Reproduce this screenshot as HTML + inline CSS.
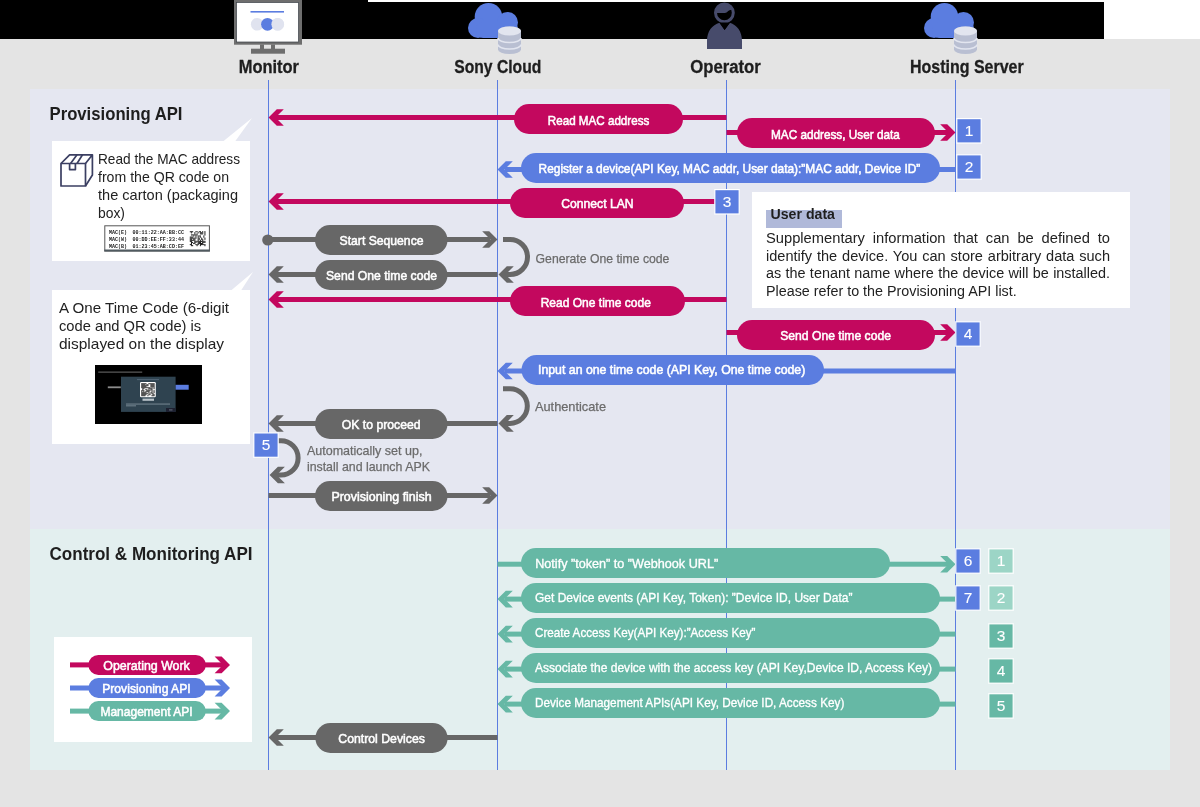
<!DOCTYPE html>
<html><head><meta charset="utf-8"><style>
html,body{margin:0;padding:0;background:#e4e4e4;}
svg{display:block;font-family:"Liberation Sans", sans-serif;will-change:transform;}
</style></head><body>
<svg width="1200" height="807" viewBox="0 0 1200 807">
<rect x="0" y="0" width="1200" height="807" fill="#e4e4e4"/>
<rect x="0" y="0" width="1104" height="39" fill="#000"/>
<rect x="368" y="0" width="736" height="2" fill="#fff"/>
<rect x="1104" y="0" width="96" height="39" fill="#fff"/>
<rect x="30" y="89" width="1140" height="440" fill="#e5e7f1"/>
<rect x="30" y="529" width="1140" height="241" fill="#e3efef"/>
<rect x="268.0" y="80" width="1" height="690" fill="#5b7de0"/>
<rect x="497.0" y="80" width="1" height="690" fill="#5b7de0"/>
<rect x="726.0" y="80" width="1" height="690" fill="#5b7de0"/>
<rect x="955.0" y="80" width="1" height="690" fill="#5b7de0"/>
<rect x="234" y="0" width="68" height="44.7" fill="#6e6e6e"/><rect x="236.5" y="2.5" width="62" height="39.5" fill="#fff" stroke="#3a3f46" stroke-width="0.7"/>
<rect x="260" y="44.5" width="4" height="5" fill="#6e6e6e"/><rect x="271" y="44.5" width="4" height="5" fill="#6e6e6e"/>
<rect x="251" y="48.7" width="34" height="5" fill="#6e6e6e"/>
<rect x="250.5" y="11" width="33.5" height="1.6" fill="#5b7de0"/>
<circle cx="257.2" cy="24.3" r="6.3" fill="#e0e3ef"/><circle cx="277.7" cy="24.3" r="6.3" fill="#e0e3ef"/>
<circle cx="267.5" cy="24.3" r="6.4" fill="#5b7de0"/>
<circle cx="277.7" cy="24.3" r="6.3" fill="#e0e3ef"/>
<g transform="translate(468,3)" fill="#5b7de0"><circle cx="20.5" cy="13.8" r="13.8"/><circle cx="39.5" cy="19.5" r="10.5"/><circle cx="10" cy="25" r="10"/><rect x="8" y="19" width="42" height="16" rx="7"/></g>
<g transform="translate(498,26.5)"><path d="M0,4.5 A11.5,4.5 0 0 1 23,4.5 V23 A11.5,4.5 0 0 1 0,23 Z" fill="#b9bfd2"/><ellipse cx="11.5" cy="4.5" rx="11.5" ry="4.5" fill="#e2e5ef"/><path d="M0,11.5 A11.5,4.5 0 0 0 23,11.5" fill="none" stroke="#e2e5ef" stroke-width="1.6"/><path d="M0,18 A11.5,4.5 0 0 0 23,18" fill="none" stroke="#e2e5ef" stroke-width="1.6"/></g>
<g transform="translate(924,3)" fill="#5b7de0"><circle cx="20.5" cy="13.8" r="13.8"/><circle cx="39.5" cy="19.5" r="10.5"/><circle cx="10" cy="25" r="10"/><rect x="8" y="19" width="42" height="16" rx="7"/></g>
<g transform="translate(954,26.5)"><path d="M0,4.5 A11.5,4.5 0 0 1 23,4.5 V23 A11.5,4.5 0 0 1 0,23 Z" fill="#b9bfd2"/><ellipse cx="11.5" cy="4.5" rx="11.5" ry="4.5" fill="#e2e5ef"/><path d="M0,11.5 A11.5,4.5 0 0 0 23,11.5" fill="none" stroke="#e2e5ef" stroke-width="1.6"/><path d="M0,18 A11.5,4.5 0 0 0 23,18" fill="none" stroke="#e2e5ef" stroke-width="1.6"/></g>
<defs><clipPath id="hc"><circle cx="724.4" cy="12.8" r="8.9"/></clipPath></defs>
<circle cx="724.4" cy="12.8" r="8.9" fill="none" stroke="#474b6b" stroke-width="3"/>
<path d="M714,2 H736 V11 C733,9.5 730.5,9.5 729,10.5 C727.5,11.5 726.5,13 724.7,13 H714 Z" fill="#474b6b" clip-path="url(#hc)"/>
<path d="M707,49 V41 C707,31.5 712,25 719.6,22.8 L724.6,30 L729.8,22.8 C737,25 742,31.5 742,41 V49 Z" fill="#474b6b"/>
<path d="M719.2,22.6 L724.6,30 L730.2,22.6 Z" fill="#000"/>
<text x="238.7" y="73.3" font-size="18" font-weight="700" fill="#1e1e1e" text-anchor="start" textLength="60.3" lengthAdjust="spacingAndGlyphs" stroke="#1e1e1e" stroke-width="0.3">Monitor</text>
<text x="454.3" y="73" font-size="18" font-weight="700" fill="#1e1e1e" text-anchor="start" textLength="87" lengthAdjust="spacingAndGlyphs" stroke="#1e1e1e" stroke-width="0.3">Sony Cloud</text>
<text x="690.2" y="72.8" font-size="18" font-weight="700" fill="#1e1e1e" text-anchor="start" textLength="70.6" lengthAdjust="spacingAndGlyphs" stroke="#1e1e1e" stroke-width="0.3">Operator</text>
<text x="910" y="73" font-size="18" font-weight="700" fill="#1e1e1e" text-anchor="start" textLength="113.7" lengthAdjust="spacingAndGlyphs" stroke="#1e1e1e" stroke-width="0.3">Hosting Server</text>
<text x="49.5" y="120" font-size="19" font-weight="700" fill="#1e1e1e" text-anchor="start" textLength="133" lengthAdjust="spacingAndGlyphs">Provisioning API</text>
<text x="49.5" y="560" font-size="19" font-weight="700" fill="#1e1e1e" text-anchor="start" textLength="203" lengthAdjust="spacingAndGlyphs">Control &amp; Monitoring API</text>
<polygon points="223,141.5 252,118 235,141.5" fill="#fff"/>
<rect x="52" y="141" width="198" height="120" fill="#fff"/>
<g fill="none" stroke="#3b3f62" stroke-width="1.7" stroke-linejoin="round"><rect x="61" y="163.5" width="24.5" height="22.5"/><path d="M61,163.5 L69.6,154.8 H92.4 V175 L85.5,186 M85.5,163.5 L92.4,154.8"/><path d="M70.6,163.5 L77,154.8 M77,163.5 L82.5,154.8"/><path d="M69.6,163.5 V169.6 H75.4 V163.5"/></g>
<text x="98" y="164.4" font-size="14.5" font-weight="400" fill="#222" text-anchor="start" textLength="142" lengthAdjust="spacingAndGlyphs">Read the MAC address</text>
<text x="98" y="182.4" font-size="14.5" font-weight="400" fill="#222" text-anchor="start" textLength="131" lengthAdjust="spacingAndGlyphs">from the QR code on</text>
<text x="98" y="200.4" font-size="14.5" font-weight="400" fill="#222" text-anchor="start" textLength="140" lengthAdjust="spacingAndGlyphs">the carton (packaging</text>
<text x="98" y="218.4" font-size="14.5" font-weight="400" fill="#222" text-anchor="start" textLength="27" lengthAdjust="spacingAndGlyphs">box)</text>
<rect x="104.8" y="225.8" width="104.6" height="25.2" fill="#fff" stroke="#555" stroke-width="1"/>
<rect x="104.3" y="249.5" width="105.6" height="2" fill="#505a60"/>
<text x="109" y="234.3" font-family="Liberation Mono" font-size="6" font-weight="700" fill="#222" textLength="18" lengthAdjust="spacingAndGlyphs">MAC(E)</text>
<text x="132.5" y="234.3" font-family="Liberation Mono" font-size="6" font-weight="700" fill="#222" textLength="51.5" lengthAdjust="spacingAndGlyphs">00:11:22:AA:BB:CC</text>
<text x="109" y="241.3" font-family="Liberation Mono" font-size="6" font-weight="700" fill="#222" textLength="18" lengthAdjust="spacingAndGlyphs">MAC(W)</text>
<text x="132.5" y="241.3" font-family="Liberation Mono" font-size="6" font-weight="700" fill="#222" textLength="51.5" lengthAdjust="spacingAndGlyphs">00:DD:EE:FF:33:44</text>
<text x="109" y="248.3" font-family="Liberation Mono" font-size="6" font-weight="700" fill="#222" textLength="18" lengthAdjust="spacingAndGlyphs">MAC(B)</text>
<text x="132.5" y="248.3" font-family="Liberation Mono" font-size="6" font-weight="700" fill="#222" textLength="51.5" lengthAdjust="spacingAndGlyphs">01:23:45:AB:CD:EF</text>
<g fill="#1a1a1a"><rect x="189.80" y="231.20" width="1.12" height="1.07"/><rect x="190.92" y="231.20" width="1.12" height="1.07"/><rect x="192.04" y="231.20" width="1.12" height="1.07"/><rect x="195.40" y="231.20" width="1.12" height="1.07"/><rect x="196.52" y="231.20" width="1.12" height="1.07"/><rect x="198.76" y="231.20" width="1.12" height="1.07"/><rect x="199.88" y="231.20" width="1.12" height="1.07"/><rect x="202.12" y="231.20" width="1.12" height="1.07"/><rect x="204.36" y="231.20" width="1.12" height="1.07"/><rect x="190.92" y="232.27" width="1.12" height="1.07"/><rect x="194.28" y="232.27" width="1.12" height="1.07"/><rect x="197.64" y="232.27" width="1.12" height="1.07"/><rect x="199.88" y="232.27" width="1.12" height="1.07"/><rect x="201.00" y="232.27" width="1.12" height="1.07"/><rect x="202.12" y="232.27" width="1.12" height="1.07"/><rect x="204.36" y="232.27" width="1.12" height="1.07"/><rect x="194.28" y="233.34" width="1.12" height="1.07"/><rect x="196.52" y="233.34" width="1.12" height="1.07"/><rect x="199.88" y="233.34" width="1.12" height="1.07"/><rect x="201.00" y="233.34" width="1.12" height="1.07"/><rect x="202.12" y="233.34" width="1.12" height="1.07"/><rect x="204.36" y="233.34" width="1.12" height="1.07"/><rect x="190.92" y="234.41" width="1.12" height="1.07"/><rect x="192.04" y="234.41" width="1.12" height="1.07"/><rect x="193.16" y="234.41" width="1.12" height="1.07"/><rect x="194.28" y="234.41" width="1.12" height="1.07"/><rect x="195.40" y="234.41" width="1.12" height="1.07"/><rect x="196.52" y="234.41" width="1.12" height="1.07"/><rect x="204.36" y="234.41" width="1.12" height="1.07"/><rect x="193.16" y="235.48" width="1.12" height="1.07"/><rect x="195.40" y="235.48" width="1.12" height="1.07"/><rect x="197.64" y="235.48" width="1.12" height="1.07"/><rect x="198.76" y="235.48" width="1.12" height="1.07"/><rect x="199.88" y="235.48" width="1.12" height="1.07"/><rect x="203.24" y="235.48" width="1.12" height="1.07"/><rect x="189.80" y="236.55" width="1.12" height="1.07"/><rect x="190.92" y="236.55" width="1.12" height="1.07"/><rect x="192.04" y="236.55" width="1.12" height="1.07"/><rect x="195.40" y="236.55" width="1.12" height="1.07"/><rect x="197.64" y="236.55" width="1.12" height="1.07"/><rect x="199.88" y="236.55" width="1.12" height="1.07"/><rect x="203.24" y="236.55" width="1.12" height="1.07"/><rect x="189.80" y="237.62" width="1.12" height="1.07"/><rect x="190.92" y="237.62" width="1.12" height="1.07"/><rect x="192.04" y="237.62" width="1.12" height="1.07"/><rect x="193.16" y="237.62" width="1.12" height="1.07"/><rect x="194.28" y="237.62" width="1.12" height="1.07"/><rect x="195.40" y="237.62" width="1.12" height="1.07"/><rect x="197.64" y="237.62" width="1.12" height="1.07"/><rect x="198.76" y="237.62" width="1.12" height="1.07"/><rect x="201.00" y="237.62" width="1.12" height="1.07"/><rect x="204.36" y="237.62" width="1.12" height="1.07"/><rect x="189.80" y="238.69" width="1.12" height="1.07"/><rect x="190.92" y="238.69" width="1.12" height="1.07"/><rect x="193.16" y="238.69" width="1.12" height="1.07"/><rect x="194.28" y="238.69" width="1.12" height="1.07"/><rect x="197.64" y="238.69" width="1.12" height="1.07"/><rect x="198.76" y="238.69" width="1.12" height="1.07"/><rect x="201.00" y="238.69" width="1.12" height="1.07"/><rect x="202.12" y="238.69" width="1.12" height="1.07"/><rect x="204.36" y="238.69" width="1.12" height="1.07"/><rect x="189.80" y="239.76" width="1.12" height="1.07"/><rect x="190.92" y="239.76" width="1.12" height="1.07"/><rect x="192.04" y="239.76" width="1.12" height="1.07"/><rect x="193.16" y="239.76" width="1.12" height="1.07"/><rect x="194.28" y="239.76" width="1.12" height="1.07"/><rect x="197.64" y="239.76" width="1.12" height="1.07"/><rect x="199.88" y="239.76" width="1.12" height="1.07"/><rect x="202.12" y="239.76" width="1.12" height="1.07"/><rect x="189.80" y="240.83" width="1.12" height="1.07"/><rect x="190.92" y="240.83" width="1.12" height="1.07"/><rect x="194.28" y="240.83" width="1.12" height="1.07"/><rect x="195.40" y="240.83" width="1.12" height="1.07"/><rect x="196.52" y="240.83" width="1.12" height="1.07"/><rect x="197.64" y="240.83" width="1.12" height="1.07"/><rect x="198.76" y="240.83" width="1.12" height="1.07"/><rect x="199.88" y="240.83" width="1.12" height="1.07"/><rect x="201.00" y="240.83" width="1.12" height="1.07"/><rect x="202.12" y="240.83" width="1.12" height="1.07"/><rect x="203.24" y="240.83" width="1.12" height="1.07"/><rect x="204.36" y="240.83" width="1.12" height="1.07"/><rect x="190.92" y="241.90" width="1.12" height="1.07"/><rect x="192.04" y="241.90" width="1.12" height="1.07"/><rect x="194.28" y="241.90" width="1.12" height="1.07"/><rect x="195.40" y="241.90" width="1.12" height="1.07"/><rect x="197.64" y="241.90" width="1.12" height="1.07"/><rect x="198.76" y="241.90" width="1.12" height="1.07"/><rect x="199.88" y="241.90" width="1.12" height="1.07"/><rect x="202.12" y="241.90" width="1.12" height="1.07"/><rect x="203.24" y="241.90" width="1.12" height="1.07"/><rect x="204.36" y="241.90" width="1.12" height="1.07"/><rect x="190.92" y="242.97" width="1.12" height="1.07"/><rect x="193.16" y="242.97" width="1.12" height="1.07"/><rect x="194.28" y="242.97" width="1.12" height="1.07"/><rect x="197.64" y="242.97" width="1.12" height="1.07"/><rect x="198.76" y="242.97" width="1.12" height="1.07"/><rect x="199.88" y="242.97" width="1.12" height="1.07"/><rect x="201.00" y="242.97" width="1.12" height="1.07"/><rect x="202.12" y="242.97" width="1.12" height="1.07"/><rect x="189.80" y="244.04" width="1.12" height="1.07"/><rect x="190.92" y="244.04" width="1.12" height="1.07"/><rect x="195.40" y="244.04" width="1.12" height="1.07"/><rect x="196.52" y="244.04" width="1.12" height="1.07"/><rect x="197.64" y="244.04" width="1.12" height="1.07"/><rect x="199.88" y="244.04" width="1.12" height="1.07"/><rect x="201.00" y="244.04" width="1.12" height="1.07"/><rect x="202.12" y="244.04" width="1.12" height="1.07"/><rect x="203.24" y="244.04" width="1.12" height="1.07"/><rect x="204.36" y="244.04" width="1.12" height="1.07"/><rect x="190.92" y="245.11" width="1.12" height="1.07"/><rect x="192.04" y="245.11" width="1.12" height="1.07"/><rect x="196.52" y="245.11" width="1.12" height="1.07"/><rect x="199.88" y="245.11" width="1.12" height="1.07"/><rect x="204.36" y="245.11" width="1.12" height="1.07"/></g>
<polygon points="231,290.5 253,272 241,290.5" fill="#fff"/>
<rect x="52" y="290" width="198" height="154" fill="#fff"/>
<text x="59" y="312.5" font-size="14.5" font-weight="400" fill="#222" text-anchor="start" textLength="170" lengthAdjust="spacingAndGlyphs">A One Time Code (6-digit</text>
<text x="59" y="330.5" font-size="14.5" font-weight="400" fill="#222" text-anchor="start" textLength="142.2" lengthAdjust="spacingAndGlyphs">code and QR code) is</text>
<text x="59" y="348.5" font-size="14.5" font-weight="400" fill="#222" text-anchor="start" textLength="165" lengthAdjust="spacingAndGlyphs">displayed on the display</text>
<rect x="95" y="365" width="107" height="59" fill="#000"/>
<rect x="98.2" y="371.6" width="44" height="1" fill="#6f6f6f"/>
<rect x="107.8" y="386.4" width="13" height="1.8" fill="#8c8c8c"/>
<rect x="121" y="376.7" width="54.6" height="35.2" fill="#2f4350"/>
<rect x="175.6" y="384.8" width="13.1" height="4.9" fill="#5b7de0"/>
<rect x="137" y="379.3" width="22" height="0.8" fill="#5d7080"/>
<rect x="140" y="382" width="15.8" height="15.3" rx="1.2" fill="#fff"/>
<g fill="#111"><rect x="141.30" y="383.20" width="1.02" height="1.0"/><rect x="142.32" y="383.20" width="1.02" height="1.0"/><rect x="143.34" y="383.20" width="1.02" height="1.0"/><rect x="144.36" y="383.20" width="1.02" height="1.0"/><rect x="145.38" y="383.20" width="1.02" height="1.0"/><rect x="148.44" y="383.20" width="1.02" height="1.0"/><rect x="149.46" y="383.20" width="1.02" height="1.0"/><rect x="150.48" y="383.20" width="1.02" height="1.0"/><rect x="151.50" y="383.20" width="1.02" height="1.0"/><rect x="152.52" y="383.20" width="1.02" height="1.0"/><rect x="153.54" y="383.20" width="1.02" height="1.0"/><rect x="141.30" y="384.20" width="1.02" height="1.0"/><rect x="142.32" y="384.20" width="1.02" height="1.0"/><rect x="143.34" y="384.20" width="1.02" height="1.0"/><rect x="144.36" y="384.20" width="1.02" height="1.0"/><rect x="146.40" y="384.20" width="1.02" height="1.0"/><rect x="147.42" y="384.20" width="1.02" height="1.0"/><rect x="150.48" y="384.20" width="1.02" height="1.0"/><rect x="151.50" y="384.20" width="1.02" height="1.0"/><rect x="152.52" y="384.20" width="1.02" height="1.0"/><rect x="153.54" y="384.20" width="1.02" height="1.0"/><rect x="141.30" y="385.20" width="1.02" height="1.0"/><rect x="142.32" y="385.20" width="1.02" height="1.0"/><rect x="143.34" y="385.20" width="1.02" height="1.0"/><rect x="144.36" y="385.20" width="1.02" height="1.0"/><rect x="145.38" y="385.20" width="1.02" height="1.0"/><rect x="146.40" y="385.20" width="1.02" height="1.0"/><rect x="147.42" y="385.20" width="1.02" height="1.0"/><rect x="150.48" y="385.20" width="1.02" height="1.0"/><rect x="151.50" y="385.20" width="1.02" height="1.0"/><rect x="152.52" y="385.20" width="1.02" height="1.0"/><rect x="153.54" y="385.20" width="1.02" height="1.0"/><rect x="141.30" y="386.20" width="1.02" height="1.0"/><rect x="142.32" y="386.20" width="1.02" height="1.0"/><rect x="143.34" y="386.20" width="1.02" height="1.0"/><rect x="144.36" y="386.20" width="1.02" height="1.0"/><rect x="145.38" y="386.20" width="1.02" height="1.0"/><rect x="150.48" y="386.20" width="1.02" height="1.0"/><rect x="151.50" y="386.20" width="1.02" height="1.0"/><rect x="152.52" y="386.20" width="1.02" height="1.0"/><rect x="153.54" y="386.20" width="1.02" height="1.0"/><rect x="141.30" y="387.20" width="1.02" height="1.0"/><rect x="142.32" y="387.20" width="1.02" height="1.0"/><rect x="143.34" y="387.20" width="1.02" height="1.0"/><rect x="144.36" y="387.20" width="1.02" height="1.0"/><rect x="145.38" y="387.20" width="1.02" height="1.0"/><rect x="146.40" y="387.20" width="1.02" height="1.0"/><rect x="147.42" y="387.20" width="1.02" height="1.0"/><rect x="148.44" y="387.20" width="1.02" height="1.0"/><rect x="149.46" y="387.20" width="1.02" height="1.0"/><rect x="151.50" y="387.20" width="1.02" height="1.0"/><rect x="153.54" y="387.20" width="1.02" height="1.0"/><rect x="142.32" y="388.20" width="1.02" height="1.0"/><rect x="143.34" y="388.20" width="1.02" height="1.0"/><rect x="148.44" y="388.20" width="1.02" height="1.0"/><rect x="149.46" y="388.20" width="1.02" height="1.0"/><rect x="150.48" y="388.20" width="1.02" height="1.0"/><rect x="151.50" y="388.20" width="1.02" height="1.0"/><rect x="153.54" y="388.20" width="1.02" height="1.0"/><rect x="142.32" y="389.20" width="1.02" height="1.0"/><rect x="145.38" y="389.20" width="1.02" height="1.0"/><rect x="146.40" y="389.20" width="1.02" height="1.0"/><rect x="148.44" y="389.20" width="1.02" height="1.0"/><rect x="150.48" y="389.20" width="1.02" height="1.0"/><rect x="151.50" y="389.20" width="1.02" height="1.0"/><rect x="141.30" y="390.20" width="1.02" height="1.0"/><rect x="142.32" y="390.20" width="1.02" height="1.0"/><rect x="143.34" y="390.20" width="1.02" height="1.0"/><rect x="146.40" y="390.20" width="1.02" height="1.0"/><rect x="147.42" y="390.20" width="1.02" height="1.0"/><rect x="148.44" y="390.20" width="1.02" height="1.0"/><rect x="149.46" y="390.20" width="1.02" height="1.0"/><rect x="151.50" y="390.20" width="1.02" height="1.0"/><rect x="153.54" y="390.20" width="1.02" height="1.0"/><rect x="141.30" y="391.20" width="1.02" height="1.0"/><rect x="143.34" y="391.20" width="1.02" height="1.0"/><rect x="145.38" y="391.20" width="1.02" height="1.0"/><rect x="146.40" y="391.20" width="1.02" height="1.0"/><rect x="147.42" y="391.20" width="1.02" height="1.0"/><rect x="148.44" y="391.20" width="1.02" height="1.0"/><rect x="151.50" y="391.20" width="1.02" height="1.0"/><rect x="153.54" y="391.20" width="1.02" height="1.0"/><rect x="141.30" y="392.20" width="1.02" height="1.0"/><rect x="142.32" y="392.20" width="1.02" height="1.0"/><rect x="143.34" y="392.20" width="1.02" height="1.0"/><rect x="144.36" y="392.20" width="1.02" height="1.0"/><rect x="145.38" y="392.20" width="1.02" height="1.0"/><rect x="148.44" y="392.20" width="1.02" height="1.0"/><rect x="150.48" y="392.20" width="1.02" height="1.0"/><rect x="151.50" y="392.20" width="1.02" height="1.0"/><rect x="153.54" y="392.20" width="1.02" height="1.0"/><rect x="141.30" y="393.20" width="1.02" height="1.0"/><rect x="142.32" y="393.20" width="1.02" height="1.0"/><rect x="143.34" y="393.20" width="1.02" height="1.0"/><rect x="144.36" y="393.20" width="1.02" height="1.0"/><rect x="145.38" y="393.20" width="1.02" height="1.0"/><rect x="146.40" y="393.20" width="1.02" height="1.0"/><rect x="147.42" y="393.20" width="1.02" height="1.0"/><rect x="149.46" y="393.20" width="1.02" height="1.0"/><rect x="151.50" y="393.20" width="1.02" height="1.0"/><rect x="152.52" y="393.20" width="1.02" height="1.0"/><rect x="141.30" y="394.20" width="1.02" height="1.0"/><rect x="142.32" y="394.20" width="1.02" height="1.0"/><rect x="143.34" y="394.20" width="1.02" height="1.0"/><rect x="144.36" y="394.20" width="1.02" height="1.0"/><rect x="145.38" y="394.20" width="1.02" height="1.0"/><rect x="148.44" y="394.20" width="1.02" height="1.0"/><rect x="149.46" y="394.20" width="1.02" height="1.0"/><rect x="152.52" y="394.20" width="1.02" height="1.0"/><rect x="153.54" y="394.20" width="1.02" height="1.0"/><rect x="141.30" y="395.20" width="1.02" height="1.0"/><rect x="142.32" y="395.20" width="1.02" height="1.0"/><rect x="143.34" y="395.20" width="1.02" height="1.0"/><rect x="144.36" y="395.20" width="1.02" height="1.0"/><rect x="147.42" y="395.20" width="1.02" height="1.0"/><rect x="151.50" y="395.20" width="1.02" height="1.0"/><rect x="152.52" y="395.20" width="1.02" height="1.0"/><rect x="153.54" y="395.20" width="1.02" height="1.0"/></g>
<rect x="142.5" y="398.6" width="11.5" height="2.2" fill="#b9c3ca"/>
<rect x="126" y="403.6" width="44" height="0.9" fill="#7f8f9a"/>
<rect x="126" y="405.4" width="10" height="0.9" fill="#7f8f9a"/>
<rect x="166" y="408" width="9.5" height="3.9" fill="#1d2030"/>
<rect x="169" y="409.6" width="3.5" height="0.7" fill="#8890a0"/>
<rect x="752" y="192" width="378" height="116" fill="#fff"/>
<rect x="766" y="210" width="76" height="18" fill="#b0b9d9"/>
<text x="770.5" y="218.7" font-size="15.5" font-weight="700" fill="#1e1e1e" text-anchor="start" textLength="64.5" lengthAdjust="spacingAndGlyphs">User data</text>
<text x="766" y="242.8" font-size="14" font-weight="400" fill="#222" text-anchor="start" textLength="344" lengthAdjust="spacingAndGlyphs" word-spacing="3.6">Supplementary information that can be defined to</text>
<text x="766" y="260.55" font-size="14" font-weight="400" fill="#222" text-anchor="start" textLength="344" lengthAdjust="spacingAndGlyphs" word-spacing="0.8">identify the device. You can store arbitrary data such</text>
<text x="766" y="278.3" font-size="14" font-weight="400" fill="#222" text-anchor="start" textLength="344" lengthAdjust="spacingAndGlyphs" word-spacing="0.3">as the tenant name where the device will be installed.</text>
<text x="766" y="296.05" font-size="14" font-weight="400" fill="#222" text-anchor="start" textLength="250.7" lengthAdjust="spacingAndGlyphs">Please refer to the Provisioning API list.</text>
<rect x="275" y="115" width="451.5" height="5" fill="#c3085e"/>
<polygon points="268.5,117.5 276.8,109.2 283.8,109.2 275.5,117.5 283.8,125.8 276.8,125.8" fill="#c3085e"/>
<rect x="514" y="104" width="169" height="30" rx="15.0" ry="15.0" fill="#c3085e"/>
<text x="547.8" y="124.8" font-size="13" font-weight="400" fill="#fff" text-anchor="start" textLength="101.5" lengthAdjust="spacingAndGlyphs" stroke="#fff" stroke-width="0.55">Read MAC address</text>
<rect x="726.5" y="130" width="223.5" height="5" fill="#c3085e"/>
<polygon points="955.5,132.5 947.2,124.2 940.2,124.2 948.5,132.5 940.2,140.8 947.2,140.8" fill="#c3085e"/>
<rect x="737" y="118" width="198" height="30" rx="15.0" ry="15.0" fill="#c3085e"/>
<text x="771" y="138.6" font-size="13" font-weight="400" fill="#fff" text-anchor="start" textLength="128.8" lengthAdjust="spacingAndGlyphs" stroke="#fff" stroke-width="0.55">MAC address, User data</text>
<rect x="956.8000000000001" y="118.6" width="24.400000000000002" height="24.400000000000002" fill="#5b7de0" stroke="#fff" stroke-width="1.2"/>
<text x="969.0" y="135.7" font-size="15.5" font-weight="400" fill="#fff" text-anchor="middle" stroke="#fff" stroke-width="0.1">1</text>
<rect x="505" y="167" width="450.5" height="5" fill="#5b7de0"/>
<polygon points="497.5,169.5 505.8,161.2 512.8,161.2 504.5,169.5 512.8,177.8 505.8,177.8" fill="#5b7de0"/>
<rect x="521" y="153" width="419" height="30" rx="15.0" ry="15.0" fill="#5b7de0"/>
<text x="538.6" y="172.5" font-size="13" font-weight="400" fill="#fff" text-anchor="start" textLength="381.7" lengthAdjust="spacingAndGlyphs" stroke="#fff" stroke-width="0.55">Register a device(API Key, MAC addr, User data):”MAC addr, Device ID”</text>
<rect x="956.8000000000001" y="154.79999999999998" width="24.400000000000002" height="24.400000000000002" fill="#5b7de0" stroke="#fff" stroke-width="1.2"/>
<text x="969.0" y="171.89999999999998" font-size="15.5" font-weight="400" fill="#fff" text-anchor="middle" stroke="#fff" stroke-width="0.1">2</text>
<rect x="275" y="199" width="441" height="5" fill="#c3085e"/>
<polygon points="268.5,201.5 276.8,193.2 283.8,193.2 275.5,201.5 283.8,209.8 276.8,209.8" fill="#c3085e"/>
<rect x="510" y="188" width="174" height="30" rx="15.0" ry="15.0" fill="#c3085e"/>
<text x="561.2" y="208.3" font-size="13" font-weight="400" fill="#fff" text-anchor="start" textLength="72.4" lengthAdjust="spacingAndGlyphs" stroke="#fff" stroke-width="0.55">Connect LAN</text>
<rect x="714.8000000000001" y="189.6" width="24.400000000000002" height="24.400000000000002" fill="#5b7de0" stroke="#fff" stroke-width="1.2"/>
<text x="727.0" y="206.7" font-size="15.5" font-weight="400" fill="#fff" text-anchor="middle" stroke="#fff" stroke-width="0.1">3</text>
<rect x="268" y="237" width="222" height="5" fill="#676767"/>
<polygon points="497.5,239.5 489.2,231.2 482.2,231.2 490.5,239.5 482.2,247.8 489.2,247.8" fill="#676767"/>
<circle cx="267.8" cy="240" r="5.6" fill="#676767"/>
<rect x="315" y="225" width="132.5" height="30" rx="15.0" ry="15.0" fill="#676767"/>
<text x="339.6" y="245.3" font-size="13" font-weight="400" fill="#fff" text-anchor="start" textLength="83.9" lengthAdjust="spacingAndGlyphs" stroke="#fff" stroke-width="0.55">Start Sequence</text>
<path d="M503,239.5 H510 A17.5,17.5 0 0 1 510,274.5 H502" fill="none" stroke="#676767" stroke-width="5"/>
<polygon points="498.5,274.5 506.8,266.2 513.8,266.2 505.5,274.5 513.8,282.8 506.8,282.8" fill="#676767"/>
<text x="535.6" y="262.8" font-size="13" font-weight="400" fill="#6b6b6b" text-anchor="start" textLength="133.8" lengthAdjust="spacingAndGlyphs" stroke="#6b6b6b" stroke-width="0.25">Generate One time code</text>
<rect x="275" y="272" width="222.5" height="5" fill="#676767"/>
<polygon points="268.5,274.5 276.8,266.2 283.8,266.2 275.5,274.5 283.8,282.8 276.8,282.8" fill="#676767"/>
<rect x="315" y="260" width="132.5" height="30" rx="15.0" ry="15.0" fill="#676767"/>
<text x="326" y="280.3" font-size="13" font-weight="400" fill="#fff" text-anchor="start" textLength="111" lengthAdjust="spacingAndGlyphs" stroke="#fff" stroke-width="0.55">Send One time code</text>
<rect x="275" y="297" width="451.5" height="5" fill="#c3085e"/>
<polygon points="268.5,299.5 276.8,291.2 283.8,291.2 275.5,299.5 283.8,307.8 276.8,307.8" fill="#c3085e"/>
<rect x="510" y="286" width="175" height="30" rx="15.0" ry="15.0" fill="#c3085e"/>
<text x="540.7" y="306.5" font-size="13" font-weight="400" fill="#fff" text-anchor="start" textLength="110.2" lengthAdjust="spacingAndGlyphs" stroke="#fff" stroke-width="0.55">Read One time code</text>
<rect x="726.5" y="330" width="223.5" height="5" fill="#c3085e"/>
<polygon points="955.5,332.5 947.2,324.2 940.2,324.2 948.5,332.5 940.2,340.8 947.2,340.8" fill="#c3085e"/>
<rect x="737" y="320" width="198" height="30" rx="15.0" ry="15.0" fill="#c3085e"/>
<text x="780.2" y="339.9" font-size="13" font-weight="400" fill="#fff" text-anchor="start" textLength="110.8" lengthAdjust="spacingAndGlyphs" stroke="#fff" stroke-width="0.55">Send One time code</text>
<rect x="955.8000000000001" y="321.8" width="24.400000000000002" height="24.400000000000002" fill="#5b7de0" stroke="#fff" stroke-width="1.2"/>
<text x="968.0" y="338.9" font-size="15.5" font-weight="400" fill="#fff" text-anchor="middle" stroke="#fff" stroke-width="0.1">4</text>
<rect x="505" y="368.5" width="450.5" height="5" fill="#5b7de0"/>
<polygon points="497.5,371 505.8,362.7 512.8,362.7 504.5,371 512.8,379.3 505.8,379.3" fill="#5b7de0"/>
<rect x="521.5" y="355" width="302.5" height="30" rx="15.0" ry="15.0" fill="#5b7de0"/>
<text x="538" y="374.2" font-size="13" font-weight="400" fill="#fff" text-anchor="start" textLength="267.3" lengthAdjust="spacingAndGlyphs" stroke="#fff" stroke-width="0.55">Input an one time code (API Key, One time code)</text>
<path d="M503,388.7 H510 A17.349999999999994,17.349999999999994 0 0 1 510,423.4 H502" fill="none" stroke="#676767" stroke-width="5"/>
<polygon points="498.5,423.4 506.8,415.09999999999997 513.8,415.09999999999997 505.5,423.4 513.8,431.7 506.8,431.7" fill="#676767"/>
<text x="535" y="411.3" font-size="13" font-weight="400" fill="#6b6b6b" text-anchor="start" textLength="71" lengthAdjust="spacingAndGlyphs" stroke="#6b6b6b" stroke-width="0.25">Authenticate</text>
<rect x="275" y="421" width="222.5" height="5" fill="#676767"/>
<polygon points="268.5,423.5 276.8,415.2 283.8,415.2 275.5,423.5 283.8,431.8 276.8,431.8" fill="#676767"/>
<rect x="315" y="409" width="132.5" height="30" rx="15.0" ry="15.0" fill="#676767"/>
<text x="341.8" y="429.3" font-size="13" font-weight="400" fill="#fff" text-anchor="start" textLength="78.7" lengthAdjust="spacingAndGlyphs" stroke="#fff" stroke-width="0.55">OK to proceed</text>
<path d="M274,440.8 H281 A17.099999999999994,17.099999999999994 0 0 1 281,475 H273" fill="none" stroke="#676767" stroke-width="5"/>
<polygon points="269.6,475 277.90000000000003,466.7 284.90000000000003,466.7 276.6,475 284.90000000000003,483.3 277.90000000000003,483.3" fill="#676767"/>
<rect x="253.79999999999998" y="432.90000000000003" width="24.400000000000002" height="24.400000000000002" fill="#5b7de0" stroke="#fff" stroke-width="1.2"/>
<text x="266.0" y="450.0" font-size="15.5" font-weight="400" fill="#fff" text-anchor="middle" stroke="#fff" stroke-width="0.1">5</text>
<text x="306.9" y="454.6" font-size="13" font-weight="400" fill="#6b6b6b" text-anchor="start" textLength="115.5" lengthAdjust="spacingAndGlyphs" stroke="#6b6b6b" stroke-width="0.25">Automatically set up,</text>
<text x="306.9" y="470.7" font-size="13" font-weight="400" fill="#6b6b6b" text-anchor="start" textLength="123" lengthAdjust="spacingAndGlyphs" stroke="#6b6b6b" stroke-width="0.25">install and launch APK</text>
<rect x="268.5" y="493" width="221.5" height="5" fill="#676767"/>
<polygon points="497.5,495.5 489.2,487.2 482.2,487.2 490.5,495.5 482.2,503.8 489.2,503.8" fill="#676767"/>
<rect x="315" y="481" width="132.5" height="30" rx="15.0" ry="15.0" fill="#676767"/>
<text x="331.4" y="501.4" font-size="13" font-weight="400" fill="#fff" text-anchor="start" textLength="100.3" lengthAdjust="spacingAndGlyphs" stroke="#fff" stroke-width="0.55">Provisioning finish</text>
<rect x="497.5" y="561.7" width="452.5" height="5" fill="#66b8a5"/>
<polygon points="955.5,564.2 947.2,555.9000000000001 940.2,555.9000000000001 948.5,564.2 940.2,572.5 947.2,572.5" fill="#66b8a5"/>
<rect x="521" y="548" width="369" height="30" rx="15.0" ry="15.0" fill="#66b8a5"/>
<text x="535.2" y="567.5" font-size="13" font-weight="400" fill="#fff" text-anchor="start" textLength="183" lengthAdjust="spacingAndGlyphs" stroke="#fff" stroke-width="0.35">Notify ”token” to ”Webhook URL”</text>
<rect x="955.8000000000001" y="548.8000000000001" width="24.400000000000002" height="24.400000000000002" fill="#5b7de0" stroke="#fff" stroke-width="1.2"/>
<text x="968.0" y="565.9000000000001" font-size="15.5" font-weight="400" fill="#fff" text-anchor="middle" stroke="#fff" stroke-width="0.1">6</text>
<rect x="988.8000000000001" y="548.8000000000001" width="24.400000000000002" height="24.400000000000002" fill="#9cd5c6" stroke="#fff" stroke-width="1.2"/>
<text x="1001.0" y="565.9000000000001" font-size="15.5" font-weight="400" fill="#fff" text-anchor="middle" stroke="#fff" stroke-width="0.1">1</text>
<rect x="505" y="596.6" width="450.5" height="5" fill="#66b8a5"/>
<polygon points="497.5,599.1 505.8,590.8000000000001 512.8,590.8000000000001 504.5,599.1 512.8,607.4 505.8,607.4" fill="#66b8a5"/>
<rect x="521" y="583" width="419" height="30" rx="15.0" ry="15.0" fill="#66b8a5"/>
<text x="535" y="602.3" font-size="13" font-weight="400" fill="#fff" text-anchor="start" textLength="317.4" lengthAdjust="spacingAndGlyphs" stroke="#fff" stroke-width="0.35">Get Device events (API Key, Token): ”Device ID, User Data”</text>
<rect x="955.8000000000001" y="585.8000000000001" width="24.400000000000002" height="24.400000000000002" fill="#5b7de0" stroke="#fff" stroke-width="1.2"/>
<text x="968.0" y="602.9000000000001" font-size="15.5" font-weight="400" fill="#fff" text-anchor="middle" stroke="#fff" stroke-width="0.1">7</text>
<rect x="505" y="631.6" width="450.5" height="5" fill="#66b8a5"/>
<polygon points="497.5,634.1 505.8,625.8000000000001 512.8,625.8000000000001 504.5,634.1 512.8,642.4 505.8,642.4" fill="#66b8a5"/>
<rect x="521" y="618" width="419" height="30" rx="15.0" ry="15.0" fill="#66b8a5"/>
<text x="535" y="637.3" font-size="13" font-weight="400" fill="#fff" text-anchor="start" textLength="220.4" lengthAdjust="spacingAndGlyphs" stroke="#fff" stroke-width="0.35">Create Access Key(API Key):”Access Key”</text>
<rect x="505" y="666.6" width="450.5" height="5" fill="#66b8a5"/>
<polygon points="497.5,669.1 505.8,660.8000000000001 512.8,660.8000000000001 504.5,669.1 512.8,677.4 505.8,677.4" fill="#66b8a5"/>
<rect x="521" y="653" width="419" height="30" rx="15.0" ry="15.0" fill="#66b8a5"/>
<text x="535" y="672.3" font-size="13" font-weight="400" fill="#fff" text-anchor="start" textLength="397" lengthAdjust="spacingAndGlyphs" stroke="#fff" stroke-width="0.35">Associate the device with the access key (API  Key,Device ID, Access Key)</text>
<rect x="505" y="701.6" width="450.5" height="5" fill="#66b8a5"/>
<polygon points="497.5,704.1 505.8,695.8000000000001 512.8,695.8000000000001 504.5,704.1 512.8,712.4 505.8,712.4" fill="#66b8a5"/>
<rect x="521" y="688" width="419" height="30" rx="15.0" ry="15.0" fill="#66b8a5"/>
<text x="535" y="707.3" font-size="13" font-weight="400" fill="#fff" text-anchor="start" textLength="309.3" lengthAdjust="spacingAndGlyphs" stroke="#fff" stroke-width="0.35">Device Management APIs(API Key, Device ID, Access Key)</text>
<rect x="988.8000000000001" y="585.8000000000001" width="24.400000000000002" height="24.400000000000002" fill="#9cd5c6" stroke="#fff" stroke-width="1.2"/>
<text x="1001.0" y="602.9000000000001" font-size="15.5" font-weight="400" fill="#fff" text-anchor="middle" stroke="#fff" stroke-width="0.1">2</text>
<rect x="988.8000000000001" y="623.8000000000001" width="24.400000000000002" height="24.400000000000002" fill="#66b8a5" stroke="#fff" stroke-width="1.2"/>
<text x="1001.0" y="640.9000000000001" font-size="15.5" font-weight="400" fill="#fff" text-anchor="middle" stroke="#fff" stroke-width="0.1">3</text>
<rect x="988.8000000000001" y="658.8000000000001" width="24.400000000000002" height="24.400000000000002" fill="#66b8a5" stroke="#fff" stroke-width="1.2"/>
<text x="1001.0" y="675.9000000000001" font-size="15.5" font-weight="400" fill="#fff" text-anchor="middle" stroke="#fff" stroke-width="0.1">4</text>
<rect x="988.8000000000001" y="693.7" width="24.400000000000002" height="24.400000000000002" fill="#66b8a5" stroke="#fff" stroke-width="1.2"/>
<text x="1001.0" y="710.8000000000001" font-size="15.5" font-weight="400" fill="#fff" text-anchor="middle" stroke="#fff" stroke-width="0.1">5</text>
<rect x="275" y="735" width="222.5" height="5" fill="#676767"/>
<polygon points="268.5,737.5 276.8,729.2 283.8,729.2 275.5,737.5 283.8,745.8 276.8,745.8" fill="#676767"/>
<rect x="315.4" y="723" width="132.20000000000005" height="30" rx="15.0" ry="15.0" fill="#676767"/>
<text x="338.3" y="743.3" font-size="13" font-weight="400" fill="#fff" text-anchor="start" textLength="86.6" lengthAdjust="spacingAndGlyphs" stroke="#fff" stroke-width="0.55">Control Devices</text>
<rect x="54" y="637" width="198" height="105" fill="#fff"/>
<rect x="70" y="662.4" width="155" height="5" fill="#c3085e"/>
<polygon points="230,664.9 221.6,656.5 214.6,656.5 223,664.9 214.6,673.3 221.6,673.3" fill="#c3085e"/>
<rect x="88.4" y="654.9" width="117.4" height="20" rx="10.0" ry="10.0" fill="#c3085e"/>
<text x="103.3" y="669.5" font-size="13" font-weight="400" fill="#fff" text-anchor="start" textLength="86.5" lengthAdjust="spacingAndGlyphs" stroke="#fff" stroke-width="0.55">Operating Work</text>
<rect x="70" y="685.5" width="155" height="5" fill="#5b7de0"/>
<polygon points="230,688.0 221.6,679.6 214.6,679.6 223,688.0 214.6,696.4 221.6,696.4" fill="#5b7de0"/>
<rect x="88.4" y="678.0" width="117.4" height="20" rx="10.0" ry="10.0" fill="#5b7de0"/>
<text x="102.2" y="692.6" font-size="13" font-weight="400" fill="#fff" text-anchor="start" textLength="88.5" lengthAdjust="spacingAndGlyphs" stroke="#fff" stroke-width="0.55">Provisioning API</text>
<rect x="70" y="708.6" width="155" height="5" fill="#66b8a5"/>
<polygon points="230,711.1 221.6,702.7 214.6,702.7 223,711.1 214.6,719.5 221.6,719.5" fill="#66b8a5"/>
<rect x="88.4" y="701.1" width="117.4" height="20" rx="10.0" ry="10.0" fill="#66b8a5"/>
<text x="100.4" y="715.7" font-size="13" font-weight="400" fill="#fff" text-anchor="start" textLength="92.2" lengthAdjust="spacingAndGlyphs" stroke="#fff" stroke-width="0.55">Management API</text>
</svg></body></html>
